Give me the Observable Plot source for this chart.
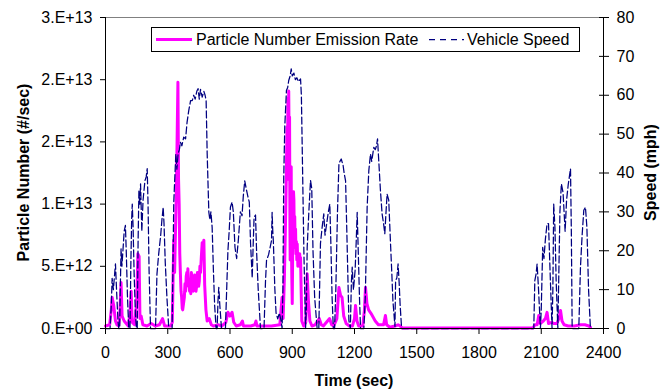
<!DOCTYPE html>
<html><head><meta charset="utf-8">
<script src="https://cdn.jsdelivr.net/npm/d3@7"></script>
<script src="https://cdn.jsdelivr.net/npm/@observablehq/plot@0.6"></script>
<style>
html,body{margin:0;padding:0;background:#fff;}
#wrap{position:relative;width:671px;height:389px;}
</style></head><body><div id="wrap"></div>
<script>
// time (s), vehicle speed (mph)
const speedSeries = [[0,0],[22,0],[28,6],[32,12.9],[38,10],[44,14],[48,16.6],[54,9],[60,2],[64,0],[68,0],[72,12],[75,20.5],[79,16],[84,20],[90,25],[96,26.5],[100,20],[106,8],[112,0],[118,0],[122,16],[126,28],[129,32],[133,26],[138,14],[144,4],[149,0],[153,0],[157,22],[161,35.5],[165,32],[169,37.2],[175,25],[181,33],[190,38],[196,39],[201,41.1],[205,32],[210,15],[217,0],[241,0],[248,14],[256,19],[266,24],[272,28],[278,31.2],[282,27],[288,17],[296,8],[305,0],[321,0],[325,16],[329,32.5],[335,40],[339,44.9],[344,41],[350,45],[356,46],[361,47.9],[368,47],[377,49.2],[386,48.8],[393,53],[401,56],[410,58.6],[418,58.6],[425,60],[432,59],[440,61],[446,61.7],[452,59],[458,61.5],[466,59.5],[474,61],[480,60],[485,58.6],[490,45],[498,29.9],[503,28],[508,30],[514,26],[520,15],[526,6],[533,0],[538,0],[542,7],[546,10.6],[551,6],[559,0],[578,0],[584,10],[590,20],[596,25],[602,31.2],[610,32.5],[616,30],[624,20.9],[632,18],[640,22.6],[650,30],[658,29],[664,34],[671,38],[678,36],[686,34],[693,32.5],[699,22],[707,13],[712,22],[716,28.6],[723,29.2],[728,20],[736,10],[747,0],[764,0],[771,12],[776,17.5],[786,19],[800,22.6],[803,29.9],[806,25.2],[809,22.3],[816,10.3],[822,4],[830,2.5],[838,4],[846,2],[851,0],[855,10],[859,38.9],[864,52],[872,61.2],[878,62],[883,63.8],[890,65],[895,66.8],[900,65],[908,65.7],[915,64],[922,64.5],[930,63.5],[940,64.2],[944,60],[950,40],[956,20],[964,0],[968,5],[972,20.9],[980,30],[988,38.1],[994,36],[1000,20],[1008,8],[1020,0],[1028,0],[1036,21.9],[1044,26],[1052,29.5],[1058,24],[1066,27],[1074,30],[1081,32],[1086,22],[1092,8],[1098,0],[1104,0],[1110,10],[1118,30],[1125,42.4],[1130,43],[1136,43.6],[1145,42],[1150,40],[1157,38],[1163,25],[1173,2],[1180,0],[1185,12],[1189,15.8],[1195,10],[1203,15],[1208,22],[1213,29.9],[1218,20],[1224,8],[1229,0],[1245,0],[1252,8],[1261,31.2],[1269,40.6],[1277,44.9],[1283,43],[1293,46.6],[1300,46],[1306,47],[1311,48.8],[1316,44],[1325,35.5],[1333,29.5],[1340,27],[1346,24.4],[1352,30],[1357,34.6],[1365,33],[1373,22.6],[1380,14],[1385,7.2],[1395,0.5],[1398,12.3],[1404,13],[1410,16.6],[1415,12],[1420,6],[1427,0],[2064,0],[2069,12.3],[2075,14],[2080,16.6],[2086,11],[2096,0],[2100,5],[2107,20.9],[2113,18],[2120,23],[2128,26.9],[2135,27],[2143,14],[2152,0],[2156,10],[2160,32],[2166,26],[2172,12],[2180,0],[2185,15],[2190,30],[2197,37.2],[2205,35],[2210,30],[2215,25],[2222,33],[2230,37],[2241,41.1],[2245,25],[2249,0],[2281,0],[2289,15.8],[2297,24],[2305,30.4],[2313,31.2],[2320,26],[2328,10],[2337,0]];

// time (s), particle number emission rate (x1e12 #/sec)
const pnSeries = [[0,0.2],[20,0.3],[28,1.5],[32,2.5],[40,1.8],[48,0.6],[55,0.3],[64,0.2],[70,1.5],[75,3.7],[80,1.0],[90,0.6],[100,0.4],[110,0.2],[118,1.2],[124,3.0],[128,0.5],[140,0.3],[150,2.0],[156,6.0],[162,5.8],[166,0.8],[172,1.0],[180,0.3],[200,0.2],[220,0.4],[240,0.2],[260,0.3],[275,0.8],[285,0.2],[315,0.2],[322,0.5],[329,7.1],[333,4.5],[340,10],[345,15],[349,19.8],[352,12],[355,10],[358,6],[361,4.4],[364,3.0],[367,2.5],[370,1.6],[372,1.5],[376,2.0],[380,2.5],[383,3.6],[386,3.0],[389,4.2],[392,4.5],[395,3.6],[397,4.8],[400,3.4],[402,4.0],[405,3.0],[408,3.5],[411,2.8],[414,4.5],[417,3.2],[420,3.8],[423,3.0],[426,3.2],[429,4.3],[432,4.0],[436,3.0],[440,3.5],[443,4.5],[446,4.2],[449,3.4],[452,3.8],[455,5.0],[458,4.5],[462,5.8],[466,6.9],[470,6.5],[474,7.1],[478,3.5],[484,1.5],[490,0.6],[500,0.8],[510,0.3],[520,0.2],[545,0.3],[560,0.2],[580,0.5],[590,1.3],[600,1.0],[610,1.3],[618,0.5],[630,0.2],[650,0.3],[660,0.6],[665,0.2],[700,0.2],[720,0.3],[725,0.6],[730,0.2],[760,0.2],[800,0.2],[840,0.3],[851,2.5],[856,0.8],[862,4],[867,8.1],[871,12],[875,16.2],[877,12],[879,18.5],[881,14],[883,19.1],[885,15],[887,17],[889,8],[890,5.5],[892,12],[893,10],[895,13],[896,7],[898,4],[900,2],[902,6],[904,8],[906,11],[908,10.3],[910,7],[912,9],[914,6.5],[916,8],[918,6],[920,7],[922,5.5],[924,6.8],[927,5],[930,6],[933,5],[936,6],[938,5.2],[940,5.7],[943,3],[946,0.6],[955,0.2],[965,0.5],[972,4.4],[978,2.2],[985,0.6],[995,0.2],[1010,0.3],[1030,0.8],[1040,0.3],[1050,0.2],[1080,0.8],[1090,0.3],[1100,0.2],[1115,0.8],[1125,3.3],[1133,2.65],[1140,2.5],[1148,1.0],[1160,0.4],[1175,0.2],[1190,0.2],[1200,0.8],[1205,1.85],[1212,0.6],[1220,0.2],[1240,0.2],[1248,1.5],[1253,3.3],[1260,2.0],[1268,1.5],[1280,1.2],[1290,0.9],[1300,0.6],[1315,0.3],[1340,0.3],[1349,1.05],[1355,0.3],[1370,0.1],[1395,0.2],[1410,0.3],[1420,0.2],[1430,0.05],[2060,0.05],[2070,0.3],[2080,0.3],[2088,1.05],[2095,0.4],[2110,0.6],[2120,0.8],[2128,1.3],[2135,0.4],[2150,0.5],[2160,0.4],[2175,0.4],[2185,0.8],[2193,1.45],[2200,0.6],[2210,0.3],[2230,0.2],[2260,0.2],[2290,0.3],[2310,0.3],[2330,0.2],[2337,0.1]];

const xTicks = [0,300,600,900,1200,1500,1800,2100,2400];
const leftTicks = [0,5e12,1e13,1.5e13,2e13,2.5e13];
const leftTickLabels = ["0.E+00","5.E+12","1.E+13","2.E+13","2.E+13","3.E+13"];
const rightTicks = [0,10,20,30,40,50,60,70,80];
const seriesNames = ["Particle Number Emission Rate","Vehicle Speed"];
const titles = {x:"Time (sec)", yLeft:"Particle Number (#/sec)", yRight:"Speed (mph)"};

const YMAX = 2.5e13, SMAX = 80, K = YMAX / SMAX;
const FONT = "Arial, 'Liberation Sans', sans-serif";

const plot = Plot.plot({
  width: 671, height: 389,
  marginLeft: 105, marginRight: 68, marginTop: 17, marginBottom: 61,
  style: {fontFamily: FONT, fontSize: "16px", color: "#000", background: "#fff", overflow: "visible"},
  x: {domain: [0, 2400]},
  y: {domain: [0, YMAX]},
  marks: [
    Plot.frame({stroke: "#808080"}),
    Plot.line(pnSeries, {x: d => d[0], y: d => d[1] * 1e12, stroke: "#ff00ff", strokeWidth: 3, strokeLinejoin: "round"}),
    Plot.line(speedSeries, {x: d => d[0], y: d => d[1] * K, stroke: "#000080", strokeWidth: 1.25, strokeDasharray: "7,3"}),
    Plot.ruleX([0], {stroke: "#000"}),
    Plot.ruleX([2400], {stroke: "#000"}),
    Plot.ruleY([0], {stroke: "#000"}),
    Plot.axisX(xTicks, {tickSize: 6, tickPadding: 12, label: null, tickFormat: d => String(d)}),
    Plot.axisY(leftTicks, {anchor: "left", tickSize: 5, tickPadding: 8, label: null, tickFormat: d => leftTickLabels[leftTicks.indexOf(d)]}),
    Plot.axisY(rightTicks.map(v => v * K), {anchor: "right", tickSize: 10, dx: -5, tickPadding: 8, label: null, tickFormat: d => String(Math.round(d / K))})
  ]
});
document.getElementById("wrap").appendChild(plot);

const svg = d3.select(plot);
const tg = svg.append("g").attr("font-family", FONT).attr("font-size", 16).attr("font-weight", "bold").attr("fill", "#000");
tg.append("text").attr("transform", "translate(23,172.5) rotate(-90)").attr("text-anchor", "middle").attr("dominant-baseline", "central").text(titles.yLeft);
tg.append("text").attr("transform", "translate(650,172.5) rotate(-90)").attr("text-anchor", "middle").attr("dominant-baseline", "central").text(titles.yRight);
tg.append("text").attr("x", 354).attr("y", 380).attr("text-anchor", "middle").attr("dominant-baseline", "central").text(titles.x);

const lg = svg.append("g").attr("font-family", FONT).attr("font-size", 16).attr("fill", "#000").attr("text-anchor", "start");
lg.append("rect").attr("x", 151.5).attr("y", 27.5).attr("width", 428).attr("height", 24).attr("fill", "#fff").attr("stroke", "#000");
lg.append("line").attr("x1", 156).attr("x2", 192).attr("y1", 39.5).attr("y2", 39.5).attr("stroke", "#ff00ff").attr("stroke-width", 3);
lg.append("text").attr("x", 196).attr("y", 45).attr("text-anchor", "start").text(seriesNames[0]);
lg.append("line").attr("x1", 429).attr("x2", 464).attr("y1", 39.5).attr("y2", 39.5).attr("stroke", "#000080").attr("stroke-width", 1.25).attr("stroke-dasharray", "6,5");
lg.append("text").attr("x", 467).attr("y", 45).attr("text-anchor", "start").text(seriesNames[1]);
</script></body></html>
